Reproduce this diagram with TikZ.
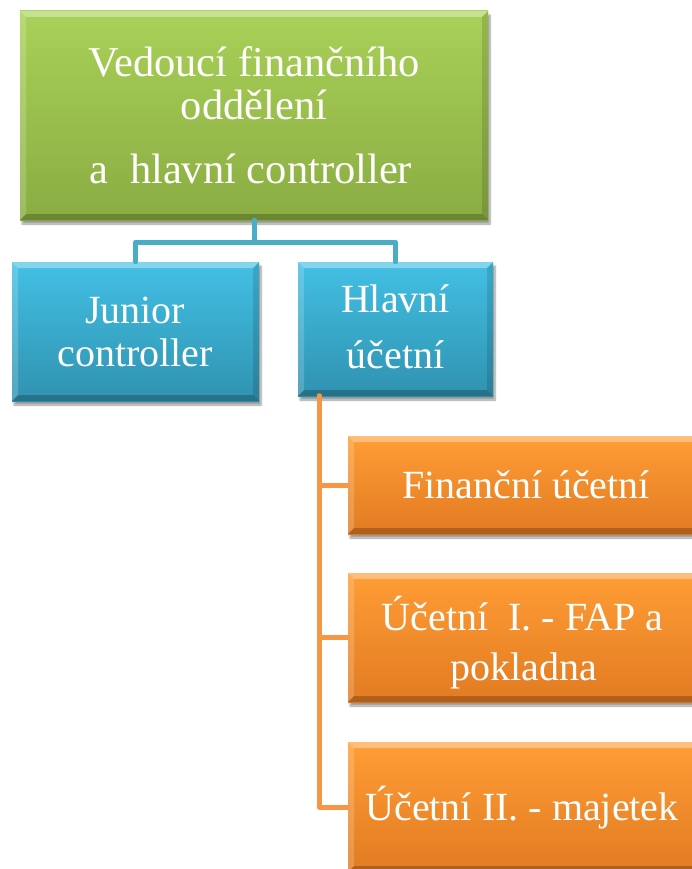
\documentclass[tikz,border=0pt]{standalone}
\usepackage{fontspec}
\setmainfont{Liberation Serif}
\usetikzlibrary{shadows.blur}

\definecolor{greenTop}{HTML}{A9D158}
\definecolor{greenBot}{HTML}{8AAC42}
\definecolor{blueTop}{HTML}{42C0E4}
\definecolor{blueBot}{HTML}{3092B0}
\definecolor{orangeTop}{HTML}{FF9D35}
\definecolor{orangeBot}{HTML}{E27B22}
\definecolor{blueLine}{HTML}{4BACC6}
\definecolor{orangeLine}{HTML}{F79646}

% bevelled faces painted inside a box
\newcommand\bevelfaces{%
  \coordinate (bNW) at (path picture bounding box.north west);
  \coordinate (bNE) at (path picture bounding box.north east);
  \coordinate (bSW) at (path picture bounding box.south west);
  \coordinate (bSE) at (path picture bounding box.south east);
  \fill[white,opacity=.35] (bNW) -- (bNE) -- ([shift={(-6pt,-6pt)}]bNE) -- ([shift={(6pt,-6pt)}]bNW) -- cycle;
  \fill[white,opacity=.18] (bNW) -- ([shift={(6pt,-6pt)}]bNW) -- ([shift={(6pt,6pt)}]bSW) -- (bSW) -- cycle;
  \fill[black,opacity=.22] (bSW) -- ([shift={(6pt,6pt)}]bSW) -- ([shift={(-6pt,6pt)}]bSE) -- (bSE) -- cycle;
  \fill[black,opacity=.12] (bSE) -- ([shift={(-6pt,6pt)}]bSE) -- ([shift={(-6pt,-6pt)}]bNE) -- (bNE) -- cycle;
}

\tikzset{
  box/.style={rectangle, inner sep=0pt, draw=none,
    blur shadow={shadow xshift=2pt, shadow yshift=-4pt, shadow blur steps=8, shadow opacity=40},
    path picture={\bevelfaces}},
  greenbox/.style={box, top color=greenTop, bottom color=greenBot},
  bluebox/.style={box, top color=blueTop, bottom color=blueBot},
  orangebox/.style={box, top color=orangeTop, bottom color=orangeBot},
  lbl/.style={anchor=base, inner sep=0pt, text=white, font=\fontsize{40}{48}\selectfont},
  biglbl/.style={lbl, font=\fontsize{42.5}{50}\selectfont},
  bluecon/.style={draw=blueLine, line width=5pt, line join=round, line cap=round},
  orangecon/.style={draw=orangeLine, line width=5pt, line join=round, line cap=round},
}

\begin{document}
\begin{tikzpicture}[x=1pt,y=-1pt]
\useasboundingbox (0,0) rectangle (692,869);
\clip (0,0) rectangle (692,869);

% junction points of the connectors
\coordinate (bus) at (254,242);
\coordinate (spine) at (319,396);

% boxes
\node[greenbox, minimum width=468pt, minimum height=209pt] (top) at (254,115.5) {};
\node[bluebox, minimum width=247pt, minimum height=139pt] (junior) at (135.5,331.5) {};
\node[bluebox, minimum width=195pt, minimum height=134pt] (hlavni) at (395.5,329) {};
\node[orangebox, minimum width=350pt, minimum height=98pt] (fin) at (523,485) {};
\node[orangebox, minimum width=350pt, minimum height=129pt] (ucA) at (523,637.5) {};
\node[orangebox, minimum width=350pt, minimum height=130pt] (ucB) at (523,807) {};

% connectors
\draw[bluecon] (top.south) -- (bus);
\draw[bluecon] (junior.north) |- (bus) -| (hlavni.north);
\draw[orangecon] (spine) |- (ucB.west);
\draw[orangecon] (spine) |- (fin.west);
\draw[orangecon] (spine) |- (ucA.west);

% labels
\node[biglbl] (top1) at (254,77) {Vedoucí finančního};
\node[biglbl] (top2) at (254,120) {oddělení};
\node[biglbl] (top3) at (251,183) {a\ \ hlavní controller};
\node[lbl] (jun1) at (135,323) {Junior};
\node[lbl] (jun2) at (135,366) {controller};
\node[lbl] (hla1) at (395.5,312) {Hlavní};
\node[lbl] (hla2) at (395.5,368) {účetní};
\node[lbl] (fin1) at (526,498) {Finanční účetní};
\node[lbl] (ucA1) at (522.5,630) {Účetní\ \ I. - FAP a};
\node[lbl] (ucA2) at (524,680) {pokladna};
\node[lbl] (ucB1) at (522,820) {Účetní II. - majetek};
\end{tikzpicture}
\end{document}
